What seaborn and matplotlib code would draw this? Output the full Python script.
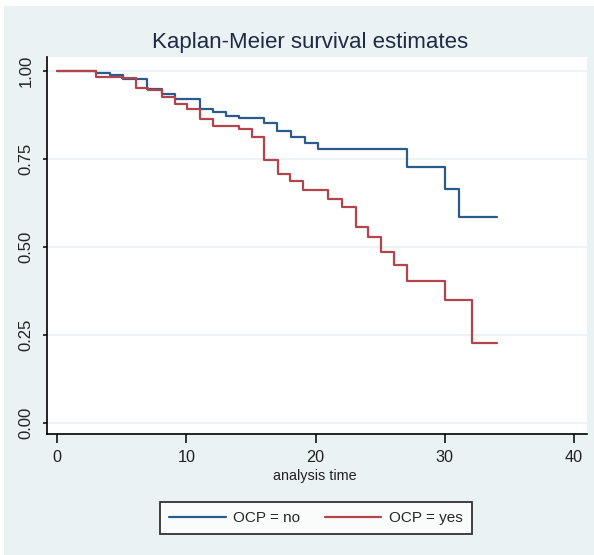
"""
Kaplan-Meier survival estimates by OCP group, Stata s2color look.
"""

import matplotlib
matplotlib.use("Agg")
import matplotlib.pyplot as plt
from matplotlib.patches import Rectangle
import pandas as pd
import seaborn as sns

# step points (time, survival)
no_time = [0, 3.0, 4.1, 5.1, 6.95, 8.15, 9.1, 11.1, 12.1, 13.1, 14.1, 16.05,
           17.05, 18.1, 19.2, 20.2, 27.05, 30.05, 31.1, 34.0]
no_surv = [1.0, 0.994, 0.988, 0.976, 0.947, 0.933, 0.920, 0.891, 0.884, 0.872,
           0.866, 0.853, 0.828, 0.813, 0.796, 0.778, 0.726, 0.664, 0.586, 0.586]

yes_time = [0, 3.0, 5.0, 6.1, 7.05, 8.1, 9.1, 10.05, 11.1, 12.1, 14.1, 15.05,
            16.0, 17.1, 18.0, 19.0, 21.0, 22.05, 23.1, 24.05, 25.1, 26.1, 27.1,
            30.05, 32.1, 34.0]
yes_surv = [1.0, 0.983, 0.978, 0.950, 0.945, 0.926, 0.907, 0.891, 0.862, 0.844,
            0.835, 0.813, 0.748, 0.706, 0.686, 0.663, 0.636, 0.613, 0.556, 0.527,
            0.487, 0.449, 0.404, 0.350, 0.229, 0.229]

groups = ["OCP = no", "OCP = yes"]
x_ticks = [0, 10, 20, 30, 40]
y_ticks = [0.0, 0.25, 0.5, 0.75, 1.0]
y_tick_labels = ["0.00", "0.25", "0.50", "0.75", "1.00"]

df = pd.concat([
    pd.DataFrame({"time": no_time, "surv": no_surv, "group": groups[0]}),
    pd.DataFrame({"time": yes_time, "surv": yes_surv, "group": groups[1]}),
], ignore_index=True)

sns.set_style("white")
plt.rcParams["font.family"] = ["Liberation Sans", "DejaVu Sans"]

BG = "#eaf2f3"
W, H = 594, 555
fig = plt.figure(figsize=(W / 100, H / 100), dpi=100, facecolor="white")
fig.add_artist(Rectangle((4 / W, 0), 590 / W, 549 / H, transform=fig.transFigure,
                         facecolor=BG, edgecolor="none", zorder=-10))
ax = fig.add_axes([47 / W, 1 - 434 / H, 540 / W, 377 / H])
ax.set_facecolor("white")

palette = {groups[0]: "#2b5b8a", groups[1]: "#b4444c"}
sns.lineplot(
    data=df, x="time", y="surv", hue="group", hue_order=groups,
    palette=palette, drawstyle="steps-post", estimator=None, sort=False,
    linewidth=1.6, ax=ax,
)
handles, labels = ax.get_legend_handles_labels()
ax.get_legend().remove()

ax.set_xlim(-0.774, 41.0)
ax.set_ylim(-0.0303, 1.0389)
ax.set_xticks(x_ticks)
ax.set_yticks(y_ticks)
ax.set_yticklabels(y_tick_labels, rotation=90, va="center")
ax.set_xlabel("")
ax.set_ylabel("")

ax.set_axisbelow(True)
ax.yaxis.grid(True, color=BG, linewidth=1.3)
ax.xaxis.grid(False)
for s in ["top", "right"]:
    ax.spines[s].set_visible(False)
for s in ["left", "bottom"]:
    ax.spines[s].set_color("black")
    ax.spines[s].set_linewidth(1.2)

ax.tick_params(axis="x", direction="out", length=6.5, width=1.1, color="black",
               pad=5, labelsize=11.7, labelcolor="#222222", bottom=True)
ax.tick_params(axis="y", direction="out", length=3, width=1.1, color="black",
               pad=6.5, labelsize=12, labelcolor="#222222", left=True)

fig.text(310 / W, 1 - 42.5 / H, "Kaplan-Meier survival estimates",
         ha="center", va="center", fontsize=16, color="#1f2a44")
fig.text(315 / W, 1 - 476 / H, "analysis time", ha="center", va="center",
         fontsize=10.4, color="#222222")

leg = fig.legend(
    handles[:2], labels[:2], loc="center", bbox_to_anchor=(316 / W, 1 - 518 / H),
    ncol=2, fontsize=11, frameon=True, fancybox=False, borderpad=0.6,
    handlelength=3.7, handletextpad=0.5, columnspacing=1.6,
)
leg.get_frame().set_edgecolor("black")
leg.get_frame().set_linewidth(1.3)
leg.get_frame().set_facecolor("white")
for line in leg.get_lines():
    line.set_linewidth(1.6)

fig.savefig("out.png", dpi=100)
